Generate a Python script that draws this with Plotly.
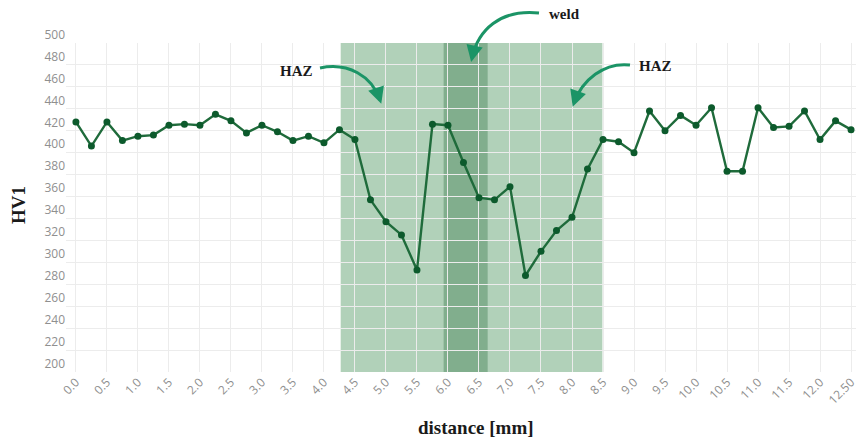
import plotly.graph_objects as go

# ---- data ----
distance_mm = [i * 0.25 for i in range(51)]
hv1 = [428, 406, 428, 411, 415, 416, 425, 426, 425, 435,
       429, 418, 425, 419, 411, 415, 409, 421, 412, 357,
       337, 325, 293, 426, 425, 391, 359, 357, 369, 288,
       310, 329, 341, 385, 412, 410, 400, 438, 420, 434,
       425, 441, 383, 383, 441, 423, 424, 438, 412, 429,
       421]
tick_vals = [i * 0.5 for i in range(26)]
tick_text = ["%.1f" % v for v in tick_vals[:-1]] + ["12.50"]
haz_zone = [4.27, 8.49]
weld_zone = [5.93, 6.64]

W, H = 856, 440
PL, PR, PT, PB = 66, 856, 43, 372   # plot area in window pixels
L, R, T, B = PL, W - PR, PT, H - PB
PW, PH = W - L - R, H - T - B


def px(x):
    return (x - L) / PW


def py(y):
    return (H - B - y) / PH


fig = go.Figure()
fig.add_trace(go.Scatter(
    x=distance_mm, y=hv1, mode="lines+markers",
    line=dict(color="#1f6b3b", width=2.4),
    marker=dict(color="#0c5a2c", size=7),
    hoverinfo="skip", showlegend=False, cliponaxis=False,
))

fig.add_shape(type="rect", xref="x", yref="y", x0=haz_zone[0], x1=haz_zone[1],
              y0=200, y1=500, fillcolor="rgba(60,140,80,0.40)", line_width=0, layer="below")
fig.add_shape(type="rect", xref="x", yref="y", x0=weld_zone[0], x1=weld_zone[1],
              y0=200, y1=500, fillcolor="rgba(40,110,60,0.35)", line_width=0, layer="below")

arrow_col = "#1b9466"
curves = [
    [(539, 13), (500, 9), (478, 30), (472, 58)],
    [(320, 68), (348, 62), (372, 76), (380, 100)],
    [(630, 65), (604, 62), (582, 80), (574, 103)],
]
for c in curves:
    (x0, y0), (x1, y1), (x2, y2), (x3, y3) = c
    path = "M %f,%f C %f,%f %f,%f %f,%f" % (px(x0), py(y0), px(x1), py(y1),
                                            px(x2), py(y2), px(x3), py(y3))
    fig.add_shape(type="path", xref="paper", yref="paper", path=path,
                  line=dict(color=arrow_col, width=3), layer="above")
    dx, dy = x3 - x2, y3 - y2
    n = (dx * dx + dy * dy) ** 0.5
    fig.add_annotation(xref="paper", yref="paper", x=px(x3 + dx / n * 4), y=py(y3 + dy / n * 4),
                       ax=-dx / n * 14, ay=-dy / n * 14, text="", showarrow=True,
                       arrowhead=2, arrowsize=1.1, arrowwidth=3, arrowcolor=arrow_col)

lab_font = dict(family="Liberation Serif", size=15, color="#1a1a1a")
for (lx, ly, txt) in [(564, 14, "weld"), (296, 71, "HAZ"), (655, 66, "HAZ")]:
    fig.add_annotation(xref="paper", yref="paper", x=px(lx), y=py(ly), text="<b>%s</b>" % txt,
                       showarrow=False, font=lab_font, xanchor="center", yanchor="middle")

title_font = dict(family="Liberation Serif", size=19, color="#1a1a1a")
fig.add_annotation(xref="paper", yref="paper", x=px(476), y=py(427), text="<b>distance [mm]</b>",
                   showarrow=False, font=title_font, xanchor="center", yanchor="middle")
fig.add_annotation(xref="paper", yref="paper", x=px(18), y=py(205), text="<b>HV1</b>",
                   showarrow=False, font=title_font, textangle=-90,
                   xanchor="center", yanchor="middle")

fig.update_layout(
    width=W, height=H,
    margin=dict(l=L, r=R, t=T, b=B),
    paper_bgcolor="white", plot_bgcolor="white",
    xaxis=dict(range=[-0.16, 12.58], tickvals=tick_vals, ticktext=tick_text,
               tickangle=-45, showgrid=True, gridcolor="#ececec", gridwidth=1,
               zeroline=False, showline=False, automargin=False,
               ticklabeloverflow="allow",
               tickfont=dict(family="Open Sans", size=12, color="#8f8f8f")),
    yaxis=dict(range=[200, 500], dtick=20, tick0=200, showgrid=True,
               gridcolor="#ececec", gridwidth=1, zeroline=False, showline=False,
               automargin=False, ticklabelposition="outside top",
               tickfont=dict(family="Open Sans", size=12, color="#8f8f8f")),
)

fig.write_html("out.html", config={"displayModeBar": False},
               post_script="document.body.style.margin='0';document.body.style.overflow='hidden';")
